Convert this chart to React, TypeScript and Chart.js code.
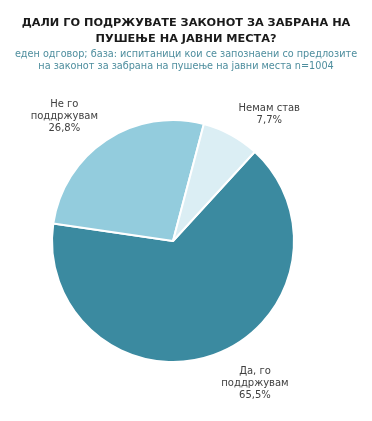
import React, { useEffect, useRef } from "react";
import { Chart, registerables } from "chart.js";

Chart.register(...registerables);

const titleLines = ["ДАЛИ ГО ПОДРЖУВАТЕ ЗАКОНОТ ЗА ЗАБРАНА НА", "ПУШЕЊЕ НА ЈАВНИ МЕСТА?"];
const subtitleLines = [
  "еден одговор; база: испитаници кои се запознаени со предлозите",
  "на законот за забрана на пушење на јавни места n=1004",
];
const categories = ["Да, го поддржувам", "Не го поддржувам", "Немам став"];
const labelLines = [
  ["Да, го", "поддржувам"],
  ["Не го", "поддржувам"],
  ["Немам став"],
];
const values = [65.5, 26.8, 7.7];
const colors = ["#3B8AA0", "#93CCDD", "#DBEEF4"];

// label placement style: angular shift (deg) and radial distance factor
const labelShift = [-10.4, -7.7, 8.6];
const labelDist = [1.355, 1.365, 1.315];

const FONT = "'DejaVu Sans', sans-serif";

const headerPlugin = {
  id: "header",
  afterDraw(chart: any) {
    const ctx = chart.ctx;
    const cx = chart.width / 2;
    ctx.save();
    ctx.textAlign = "center";
    ctx.textBaseline = "middle";
    ctx.fillStyle = "#1A1A1A";
    ctx.font = `bold 11.3px ${FONT}`;
    titleLines.forEach((t, i) => ctx.fillText(t, cx, 23 + i * 16));
    ctx.fillStyle = "#4E8E9E";
    ctx.font = `9.7px ${FONT}`;
    subtitleLines.forEach((t, i) => ctx.fillText(t, cx, 54 + i * 12));
    ctx.restore();
  },
};

const labelPlugin = {
  id: "pieLabels",
  afterDatasetsDraw(chart: any) {
    const ctx = chart.ctx;
    const meta = chart.getDatasetMeta(0);
    ctx.save();
    ctx.fillStyle = "#404040";
    ctx.font = `10px ${FONT}`;
    ctx.textAlign = "center";
    ctx.textBaseline = "middle";
    meta.data.forEach((arc: any, i: number) => {
      const p = arc.getProps(["x", "y", "startAngle", "endAngle", "outerRadius"], true);
      const mid = (p.startAngle + p.endAngle) / 2 + (labelShift[i] * Math.PI) / 180;
      const d = p.outerRadius * labelDist[i];
      const cx = p.x + Math.cos(mid) * d;
      const cy = p.y + Math.sin(mid) * d;
      const lines = [...labelLines[i], values[i].toFixed(1).replace(".", ",") + "%"];
      const lh = 12;
      const top = cy - ((lines.length - 1) * lh) / 2;
      lines.forEach((t, j) => ctx.fillText(t, cx, top + j * lh));
    });
    ctx.restore();
  },
};

export default function App() {
  const ref = useRef<HTMLCanvasElement>(null);
  useEffect(() => {
    const chart = new Chart(ref.current!, {
      type: "pie",
      data: {
        labels: categories,
        datasets: [
          {
            data: values,
            backgroundColor: colors,
            borderColor: "#FFFFFF",
            borderWidth: 2,
          },
        ],
      },
      options: {
        animation: false,
        responsive: false,
        rotation: 42.5,
        layout: { padding: { left: 51, right: 77, top: 119, bottom: 58 } },
        plugins: {
          legend: { display: false },
          tooltip: { enabled: false },
          title: { display: false },
          subtitle: { display: false },
        },
      },
      plugins: [labelPlugin, headerPlugin],
    });
    return () => chart.destroy();
  }, []);
  return (
    <div style={{ position: "fixed", left: 0, top: 0, width: 372, height: 421, background: "#fff" }}>
      <canvas ref={ref} width={372} height={421} />
    </div>
  );
}
